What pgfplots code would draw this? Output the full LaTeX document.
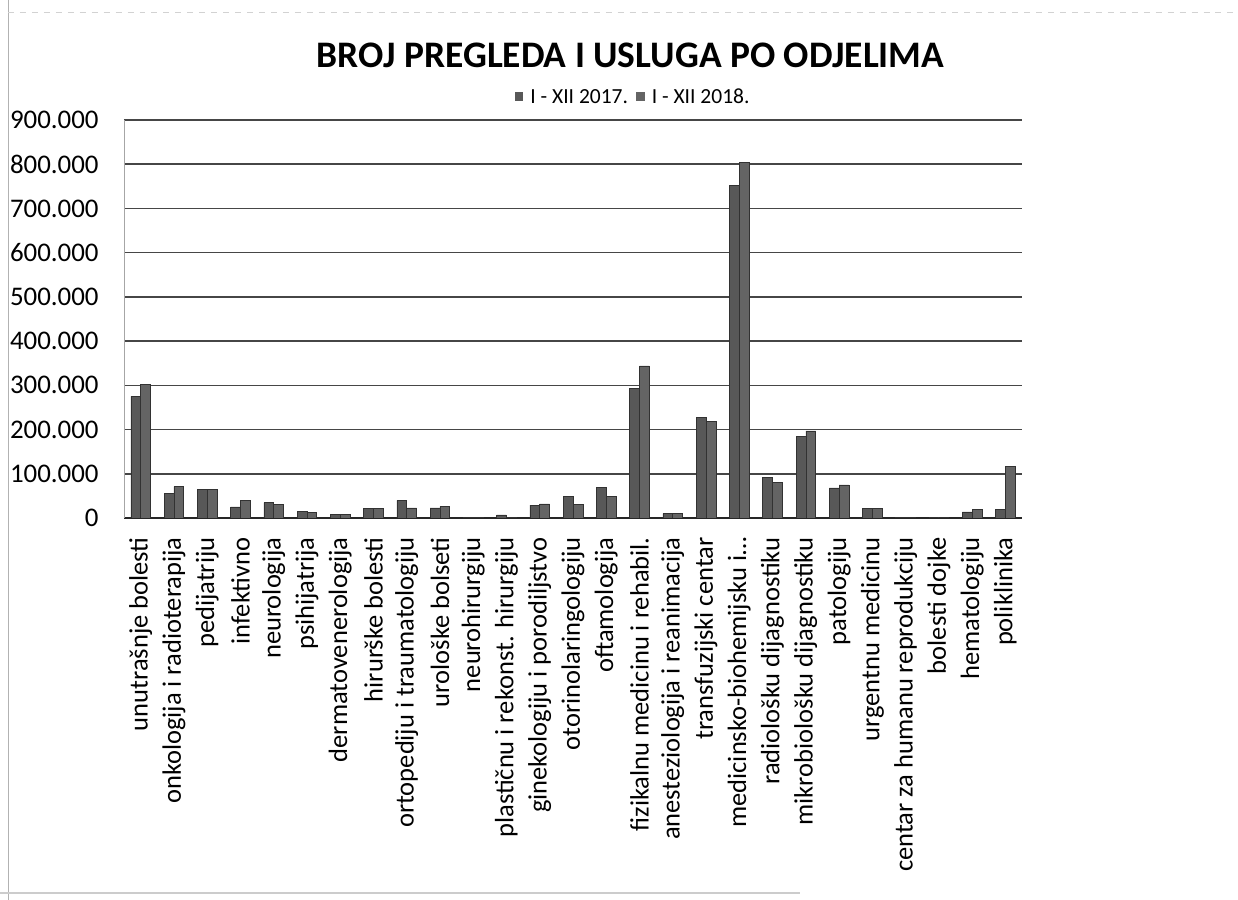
\documentclass[border=0pt]{standalone}
\usepackage{fontspec}
\setmainfont{Carlito}
\usepackage{pgfplots}
\pgfplotsset{compat=1.18}
\definecolor{barA}{RGB}{88,88,88}
\definecolor{barB}{RGB}{100,100,100}
\definecolor{barEdge}{RGB}{50,50,50}
\definecolor{gridc}{RGB}{70,70,70}
\begin{document}
\begin{tikzpicture}
\useasboundingbox (0,0) rectangle (619bp,450bp);
\draw[gray!60, line width=0.5pt] (4bp,0) -- (4bp,450bp);
\draw[gray!35, line width=0.5pt, dashed] (4bp,443.5bp) -- (619bp,443.5bp);
\draw[gray!40, line width=0.6pt] (0bp,3.5bp) -- (400bp,3.5bp);
\begin{axis}[
  at={(62bp,191bp)}, anchor=south west,
  scale only axis, width=449bp, height=199bp,
  ybar=0pt, bar width=4.9bp,
  xmin=-0.5, xmax=26.5, ymin=0, ymax=900000,
  xtick={0,...,26},
  xticklabels={{unutrašnje bolesti},{onkologija i radioterapija},{pedijatriju},{infektivno},{neurologija},{psihijatrija},{dermatovenerologija},{hirurške bolesti},{ortopediju i traumatologiju},{urološke bolseti},{neurohirurgiju},{plastičnu i rekonst. hirurgiju},{ginekologiju i porodiljstvo},{otorinolaringologiju},{oftamologija},{fizikalnu medicinu i rehabil.},{anesteziologija i reanimacija},{transfuzijski centar},{medicinsko-biohemijsku i…},{radiološku dijagnostiku},{mikrobiološku dijagnostiku},{patologiju},{urgentnu medicinu},{centar za humanu reprodukciju},{bolesti dojke},{hematologiju},{poliklinika}},
  xticklabel style={rotate=90, anchor=east, font=\fontsize{13.3}{15}\selectfont, inner sep=0pt},
  xticklabel shift=9.5bp,
  ytick={0,100000,...,900000},
  scaled y ticks=false,
  yticklabel style={font=\fontsize{13.5}{16}\selectfont, inner sep=0pt, xshift=-12.5bp},
  /pgf/number format/.cd, fixed, 1000 sep={.}, assume math mode=true,
  /pgfplots/.cd,
  major tick length=0pt,
  axis x line*=bottom, axis y line*=left,
  x axis line style={black!85, line width=0.8pt},
  y axis line style={gray!70, line width=0.4pt},
  ymajorgrids,
  grid style={gridc, line width=0.8pt},
  legend columns=2,
  legend style={draw=none, fill=none, at={(0.568,1.055)}, anchor=center,
    font=\fontsize{10.8}{13}\selectfont,
    /tikz/every odd column/.append style={column sep=1.5bp},
    /tikz/every even column/.append style={column sep=2bp}},
  legend image code/.code={\draw[#1,draw=none] (0bp,-1.2bp) rectangle (4.4bp,3.2bp);},
]
\addplot[fill=barA, draw=barEdge, line width=0.3pt] coordinates {
(0,275000) (1,56000) (2,64000) (3,25000) (4,35000) (5,15000) (6,9000) (7,21000) (8,40000) (9,23000)
(10,2000) (11,7000) (12,29000) (13,48000) (14,69000) (15,293000) (16,10000) (17,228000) (18,752000)
(19,92000) (20,184000) (21,68000) (22,21000) (23,1000) (24,2000) (25,14000) (26,20000)};
\addplot[fill=barB, draw=barEdge, line width=0.3pt] coordinates {
(0,303000) (1,71000) (2,64000) (3,40000) (4,30000) (5,12000) (6,9000) (7,21000) (8,23000) (9,26000)
(10,1000) (11,1000) (12,32000) (13,31000) (14,49000) (15,344000) (16,10000) (17,219000) (18,805000)
(19,80000) (20,197000) (21,75000) (22,22000) (23,1000) (24,2000) (25,20000) (26,117000)};
\legend{I - XII 2017., I - XII 2018.}
\end{axis}
\node[anchor=base, font=\bfseries\fontsize{18.8}{22}\selectfont, inner sep=0pt] at (315.3bp,416bp) {BROJ PREGLEDA I USLUGA PO ODJELIMA};
\end{tikzpicture}
\end{document}
